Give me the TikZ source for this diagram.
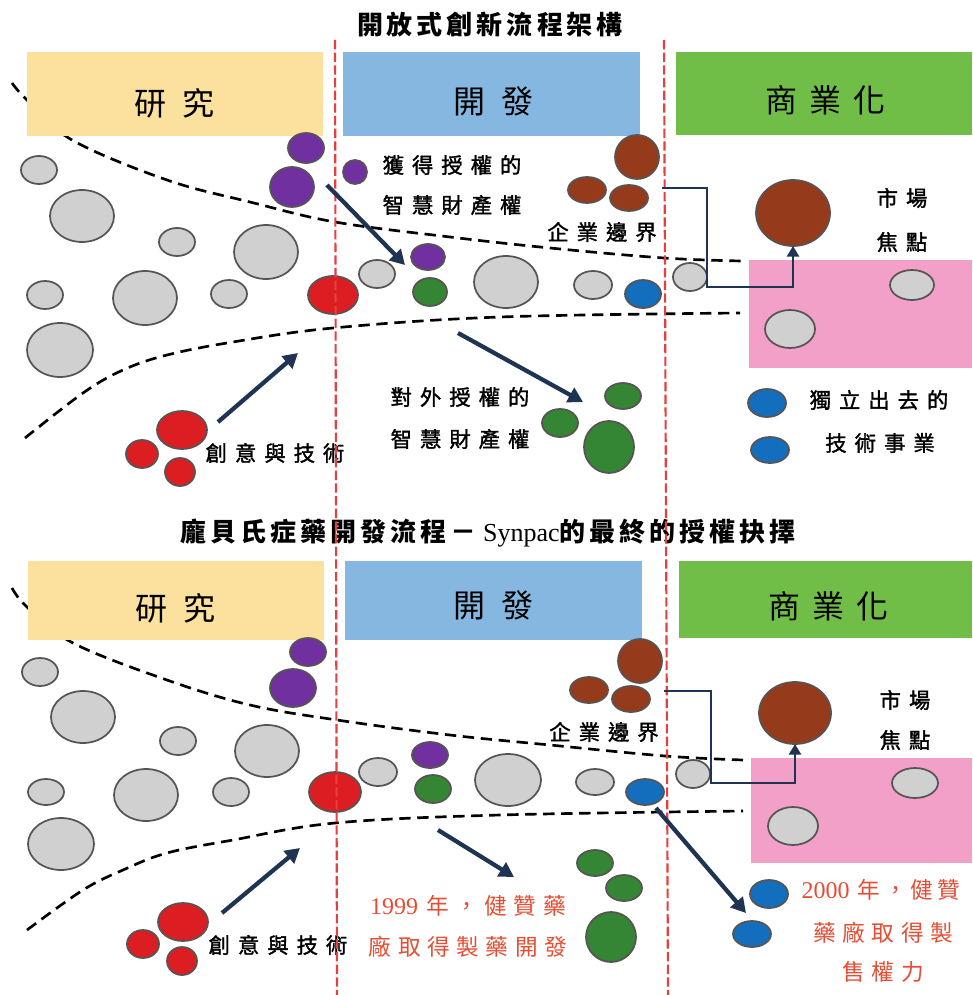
\documentclass[tikz,border=0pt]{standalone}
\usepackage{fontspec}
\setmainfont{Liberation Serif}
\newfontfamily\cjk{Noto Sans CJK TC}
\newfontfamily\cjkm[FakeBold=1.5]{Noto Sans CJK TC}
\newfontfamily\lat{Liberation Serif}
\usetikzlibrary{shapes.geometric,arrows.meta}
\definecolor{cyel}{RGB}{251,224,158}
\definecolor{cblu}{RGB}{133,183,224}
\definecolor{cgrn}{RGB}{112,190,72}
\definecolor{cpink}{RGB}{243,160,200}
\definecolor{cgray}{RGB}{208,208,208}
\definecolor{cline}{RGB}{88,84,84}
\definecolor{cpur}{RGB}{112,48,160}
\definecolor{cred}{RGB}{220,30,35}
\definecolor{cbrn}{RGB}{150,58,28}
\definecolor{cgr}{RGB}{52,133,52}
\definecolor{cbl}{RGB}{20,110,190}
\definecolor{carr}{RGB}{30,52,82}
\definecolor{cvr}{RGB}{232,62,62}
\definecolor{ctxt}{RGB}{230,78,52}
\makeatletter
\def\ls@end{\ls@end}
\newcommand\ls[2]{\def\ls@gap{\hspace*{#1}}\ls@a#2\ls@end}
\def\ls@a#1{#1\ls@b}
\def\ls@b#1{\ifx#1\ls@end\else\ls@gap#1\expandafter\ls@b\fi}
\makeatother
\tikzset{
 bub/.style={ellipse, draw=cline, line width=1.3pt, inner sep=0pt, outer sep=0pt},
 sz/.style 2 args={minimum width=#1*1.5pt, minimum height=#2*1.5pt},
 gb/.style={bub, fill=cgray},
 pb/.style={bub, fill=cpur},
 rb/.style={bub, fill=cred},
 bn/.style={bub, fill=cbrn},
 gn/.style={bub, fill=cgr},
 bl/.style={bub, fill=cbl},
 curve/.style={black, line width=2pt, dash pattern=on 8.5pt off 5pt},
 vline/.style={cvr, line width=1.6pt, dash pattern=on 7pt off 2.5pt},
 arr/.style={carr, line width=3.2pt, -{Triangle[length=11pt,width=12pt]}},
 elb/.style={carr, line width=2.2pt, -{Triangle[length=8pt,width=9pt]}},
 ttl/.style={font=\cjk\bfseries\fontsize{19.5}{23}\selectfont, inner sep=0pt},
 hdr/.style={font=\cjk\fontsize{24}{28}\selectfont, inner sep=0pt},
 lbl/.style={font=\cjkm\fontsize{16}{19}\selectfont, inner sep=0pt},
 rlbl/.style={font=\cjk\fontsize{17}{20}\selectfont, text=ctxt, inner sep=0pt}
}
\begin{document}
\begin{tikzpicture}[x=0.75pt,y=-0.75pt]
\useasboundingbox (0,0) rectangle (972,995);
\fill[white] (0,0) rectangle (972,995);
% ---------------- TOP PANEL ----------------
\draw[curve] plot[smooth, tension=0.6] coordinates {(12,83) (27,100) (72,140) (167,180) (250,202) (335,222) (450,237) (550,248) (664,258) (742,261)};
\draw[curve] plot[smooth, tension=0.6] coordinates {(25,438) (83,393) (123,370) (167,355) (233,342) (333,328) (500,317) (740,313)};
\fill[cyel] (27,52) rectangle (323,136);
\fill[cblu] (343,52) rectangle (640,136);
\fill[cgrn] (676,52) rectangle (972,135);
\fill[cpink] (749,260) rectangle (972,368);
\node[ttl] (t1) at (490,25) {\ls{3pt}{開放式創新流程架構}};
\node[hdr] (h1) at (174,103) {\ls{12pt}{研究}};
\node[hdr] (h2) at (493,101) {\ls{12pt}{開發}};
\node[hdr] (h3) at (825,100) {\ls{9pt}{商業化}};
% bubbles
\node[gb, sz={18}{14}] (g1) at (39,170) {};
\node[gb, sz={32}{26}] (g2) at (82,216) {};
\node[gb, sz={18}{14}] (g3) at (177,242) {};
\node[gb, sz={32}{27}] (g4) at (266,252) {};
\node[gb, sz={18}{14}] (g5) at (45,295) {};
\node[gb, sz={32}{27}] (g6) at (145,298) {};
\node[gb, sz={18}{14}] (g7) at (229,294) {};
\node[gb, sz={33}{27}] (g8) at (60,350) {};
\node[gb, sz={18}{14}] (g9) at (377,274) {};
\node[gb, sz={32}{26}] (g10) at (506,282) {};
\node[gb, sz={19}{14}] (g11) at (593,285) {};
\node[gb, sz={17}{14}] (g12) at (690,277) {};
\node[gb, sz={22}{15}] (g13) at (912,285) {};
\node[gb, sz={25}{19}] (g14) at (790,329) {};
\node[pb, sz={18}{15}] (p1) at (306,148) {};
\node[pb, sz={22}{20}] (p2) at (292,187) {};
\node[pb, sz={12}{12}] (p3) at (355,172) {};
\node[pb, sz={17}{13}] (p4) at (428,257) {};
\node[rb, sz={25}{19}] (r1) at (333,295) {};
\node[rb, sz={25}{19}] (r2) at (182,430) {};
\node[rb, sz={16}{14}] (r3) at (142,454) {};
\node[rb, sz={15}{14}] (r4) at (180,472) {};
\node[gn, sz={17}{14}] (n1) at (430,292) {};
\node[gn, sz={18}{13}] (n2) at (623,396) {};
\node[gn, sz={18}{14}] (n3) at (560,423) {};
\node[gn, sz={25}{26}] (n4) at (609,447) {};
\node[bl, sz={18}{14}] (b1) at (643,294) {};
\node[bl, sz={19}{14}] (b2) at (767,403) {};
\node[bl, sz={19}{13}] (b3) at (770,450) {};
\node[bn, sz={22}{22}] (k1) at (637,157) {};
\node[bn, sz={19}{13}] (k2) at (587,190) {};
\node[bn, sz={19}{13}] (k3) at (629,198) {};
\node[bn, sz={37}{33}] (k4) at (793,213) {};
% labels
\node[lbl] (l1) at (452,165) {\ls{6pt}{獲得授權的}};
\node[lbl] (l2) at (452,205) {\ls{6pt}{智慧財產權}};
\node[lbl] (l3) at (602,232) {\ls{6pt}{企業邊界}};
\node[lbl] (l4) at (902,198) {\ls{6pt}{市場}};
\node[lbl] (l5) at (902,242) {\ls{6pt}{焦點}};
\node[lbl] (l6) at (460,397) {\ls{6pt}{對外授權的}};
\node[lbl] (l7) at (460,439) {\ls{6pt}{智慧財產權}};
\node[lbl] (l8) at (275,453) {\ls{6pt}{創意與技術}};
\node[lbl] (l9) at (879,400) {\ls{6pt}{獨立出去的}};
\node[lbl] (l10) at (880,443) {\ls{6pt}{技術事業}};
% ---------------- BOTTOM PANEL ----------------
\draw[curve] plot[smooth, tension=0.6] coordinates {(12,588) (27,607) (73,643) (167,680) (250,705) (337,720) (450,735) (550,745) (665,756) (743,760)};
\draw[curve] plot[smooth, tension=0.6] coordinates {(27,930) (83,890) (123,870) (167,853) (233,840) (335,823) (500,815) (743,811)};
\fill[cyel] (28,561) rectangle (324,640);
\fill[cblu] (345,561) rectangle (642,640);
\fill[cgrn] (679,561) rectangle (972,638);
\fill[cpink] (751,758) rectangle (972,863);
\node[ttl] (t2) at (488,533) {\ls{3pt}{龐貝氏症藥開發流程－}\hspace{5pt}{\lat\mdseries Synpac}\ls{3pt}{的最終的授權抉擇}};
\node[hdr] (H1) at (175,608) {\ls{12pt}{研究}};
\node[hdr] (H2) at (493,605) {\ls{12pt}{開發}};
\node[hdr] (H3) at (828,606) {\ls{9pt}{商業化}};
\node[gb, sz={18}{14}] (G1) at (40,672) {};
\node[gb, sz={32}{26}] (G2) at (83,717) {};
\node[gb, sz={18}{14}] (G3) at (178,741) {};
\node[gb, sz={32}{26}] (G4) at (267,751) {};
\node[gb, sz={18}{13}] (G5) at (46,792) {};
\node[gb, sz={32}{26}] (G6) at (146,795) {};
\node[gb, sz={18}{14}] (G7) at (231,792) {};
\node[gb, sz={33}{26}] (G8) at (61,844) {};
\node[gb, sz={19}{14}] (G9) at (378,772) {};
\node[gb, sz={33}{26}] (G10) at (508,780) {};
\node[gb, sz={19}{13}] (G11) at (595,782) {};
\node[gb, sz={17}{14}] (G12) at (693,774) {};
\node[gb, sz={23}{15}] (G13) at (915,783) {};
\node[gb, sz={25}{19}] (G14) at (793,826) {};
\node[pb, sz={18}{14}] (P1) at (308,652) {};
\node[pb, sz={23}{19}] (P2) at (293,688) {};
\node[pb, sz={18}{13}] (P4) at (430,755) {};
\node[rb, sz={26}{20}] (R1) at (335,792) {};
\node[rb, sz={25}{19}] (R2) at (183,922) {};
\node[rb, sz={16}{14}] (R3) at (143,944) {};
\node[rb, sz={15}{14}] (R4) at (182,961) {};
\node[gn, sz={18}{14}] (N1) at (433,789) {};
\node[gn, sz={18}{13}] (N2) at (595,863) {};
\node[gn, sz={18}{13}] (N3) at (624,888) {};
\node[gn, sz={25}{25}] (N4) at (611,937) {};
\node[bl, sz={19}{13}] (B1) at (645,792) {};
\node[bl, sz={19}{14}] (B2) at (769,894) {};
\node[bl, sz={19}{13}] (B3) at (752,934) {};
\node[bn, sz={22}{22}] (K1) at (640,661) {};
\node[bn, sz={19}{13}] (K2) at (589,690) {};
\node[bn, sz={19}{13}] (K3) at (631,699) {};
\node[bn, sz={36}{31}] (K4) at (795,713) {};
\node[lbl] (L3) at (604,732) {\ls{6pt}{企業邊界}};
\node[lbl] (L4) at (905,700) {\ls{6pt}{市場}};
\node[lbl] (L5) at (905,740) {\ls{6pt}{焦點}};
\node[lbl] (L8) at (278,945) {\ls{6pt}{創意與技術}};
\node[rlbl] (M1) at (468,906) {{\lat\fontsize{18}{20}\selectfont 1999}\hspace{6pt}\ls{5pt}{年，健贊藥}};
\node[rlbl] (M2) at (468,947) {\ls{5pt}{廠取得製藥開發}};
\node[rlbl] (M3) at (881,890) {{\lat\fontsize{18}{20}\selectfont 2000}\hspace{6pt}\ls{3pt}{年，健贊}};
\node[rlbl] (M4) at (883,933) {\ls{5pt}{藥廠取得製}};
\node[rlbl] (M5) at (883,972) {\ls{5pt}{售權力}};
% ---------------- red dividers ----------------
\coordinate (v1a) at (335,40);
\coordinate (v1b) at (337,995);
\coordinate (v2a) at (664,40);
\coordinate (v2b) at (668,995);
\draw[vline] (v1a) -- (v1b);
\draw[vline] (v2a) -- (v2b);
% ---------------- arrows ----------------
\coordinate (a1s) at (327,185); \coordinate (a1e) at (405,265);
\coordinate (a2s) at (218,422); \coordinate (a2e) at (298,353);
\coordinate (a3s) at (458,333); \coordinate (a3e) at (583,402);
\coordinate (e1s) at (662,188);
\draw[arr] (a1s) -- (a1e);
\draw[arr] (a2s) -- (a2e);
\draw[arr] (a3s) -- (a3e);
\draw[elb] (e1s) -- (707,188) -- (707,287) -| (k4.south);
\coordinate (A2s) at (222,913); \coordinate (A2e) at (300,848);
\coordinate (A3s) at (438,830); \coordinate (A3e) at (514,877);
\coordinate (A4s) at (656,808); \coordinate (A4e) at (746,913);
\coordinate (E1s) at (664,691);
\draw[arr] (A2s) -- (A2e);
\draw[arr] (A3s) -- (A3e);
\draw[arr] (A4s) -- (A4e);
\draw[elb] (E1s) -- (711,691) -- (711,783) -| (K4.south);
\end{tikzpicture}
\end{document}
